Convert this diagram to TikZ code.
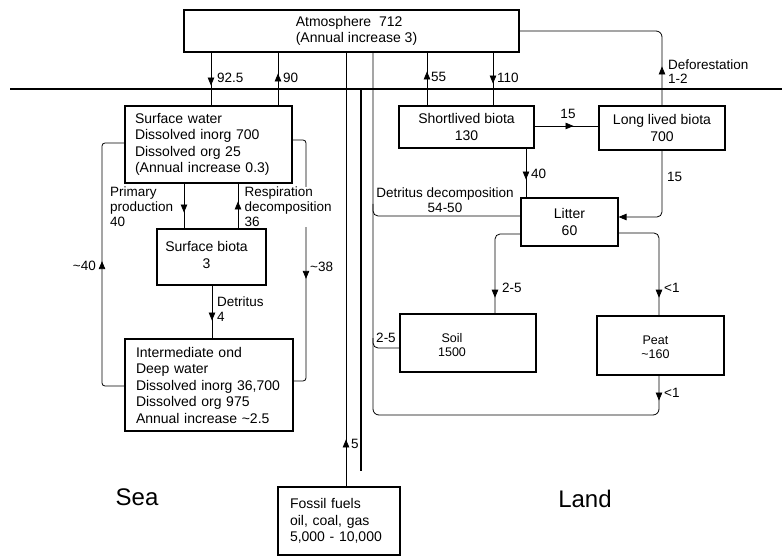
\documentclass[tikz,border=0pt]{standalone}
\usepackage{fontspec}
\setmainfont{Liberation Sans}
\usetikzlibrary{arrows.meta,decorations.markings}
\newcommand\myboxfont{\fontsize{14}{16.5}\selectfont}
\newcommand\mylabfont{\fontsize{13.5}{15}\selectfont}
\newcommand\mysmallfont{\fontsize{12.5}{14}\selectfont}
\begin{document}
\begin{tikzpicture}[x=1pt,y=-1pt,
  box/.style={draw,line width=1.1pt,inner sep=0pt,font=\myboxfont,align=center},
  conn/.style={line width=0.8pt},
  marr/.style={decoration={markings,mark=at position #1pt with {\arrow{Triangle[length=8pt,width=6.5pt]}}},postaction={decorate}},
  lab/.style={font=\mylabfont,inner sep=1pt,align=left},
  big/.style={font=\fontsize{24}{28}\selectfont},
  divider/.style={line width=2pt}]
\useasboundingbox (0,0) rectangle (782,556);

% boxes
\node[box,minimum width=335pt,minimum height=42pt,
  label={[font=\myboxfont,align=left,xshift=5pt]center:Atmosphere\ \ 712\\(Annual increase 3)}] (atm) at (351.5,31) {};
\node[box,minimum width=167pt,minimum height=77pt,text width=147pt,inner xsep=10pt,align=left] (sw) at (208.5,144.5)
  {Surface water\\Dissolved inorg 700\\Dissolved org 25\\(Annual increase 0.3)};
\node[box,minimum width=109pt,minimum height=56pt,
  label={[font=\myboxfont,align=center,xshift=-5pt,yshift=2pt]center:Surface biota\\3}] (sb) at (211.5,257) {};
\node[box,minimum width=168pt,minimum height=92pt,text width=146pt,inner xsep=11pt,align=left] (dw) at (209,385)
  {Intermediate ond\\Deep water\\Dissolved inorg 36,700\\Dissolved org 975\\Annual increase \textasciitilde2.5};
\node[box,minimum width=122pt,minimum height=68pt,text width=98pt,inner xsep=12pt,align=left] (ff) at (339,521)
  {Fossil fuels\\oil, coal, gas\\5,000 - 10,000};
\node[box,minimum width=135pt,minimum height=42pt] (slb) at (466.5,127) {Shortlived biota\\130};
\node[box,minimum width=126pt,minimum height=44pt] (llb) at (662,128) {Long lived biota\\700};
\node[box,minimum width=97pt,minimum height=48pt] (lit) at (569.5,222) {Litter\\60};
\node[box,minimum width=136pt,minimum height=58pt,
  label={[font=\mysmallfont,align=center,xshift=-16pt,yshift=-2pt]center:Soil\\1500}] (soil) at (468,343) {};
\node[box,minimum width=127pt,minimum height=59pt,
  label={[font=\mysmallfont,align=center,xshift=-5pt,yshift=-1.5pt]center:Peat\\\textasciitilde160}] (peat) at (660.5,345.5) {};

\node[big] (sea) at (137,497) {Sea};
\node[big] (land) at (585,499) {Land};

% dividers
\coordinate (hl) at (10,89);
\coordinate (hr) at (782,89);
\coordinate (vt) at (361,89);
\coordinate (vb) at (361,471);
\draw[divider] (hl) -- (hr);
\draw[divider] (vt) -- (vb);

% sea exchanges
\draw[conn,marr=33] (atm.south -| 211,0) -- (sw.north -| 211,0);
\draw[conn,marr=32] (sw.north -| 278,0) -- (atm.south -| 278,0);
\draw[conn,marr=29] (sw.south -| 184,0) -- (sb.north -| 184,0);
\draw[conn,marr=27] (sb.north -| 238,0) -- (sw.south -| 238,0);
\draw[conn,marr=35] (sb.south -| 212,0) -- (dw.north -| 212,0);
\draw[conn,rounded corners=3pt,marr=146] (dw.west |- 0,386) -- (102,386) -- (102,143) -- (sw.west |- 0,143);
\draw[conn,rounded corners=3pt,marr=151] (sw.east |- 0,140) -- (306,140) -- (306,381) -- (dw.east |- 0,381);

% fossil
\draw[conn,marr=47] (ff.north -| 346,0) -- (atm.south -| 346,0);

% land exchanges
\draw[conn,marr=34] (slb.north -| 427,0) -- (atm.south -| 427,0);
\draw[conn,marr=31] (atm.south -| 493,0) -- (slb.north -| 493,0);
\draw[conn,rounded corners=6pt,marr=39] (llb.north) -- (llb.north |- atm.east) -- (atm.east);
\draw[conn,marr=39] (slb.east |- 0,126) -- (llb.west |- 0,126);
\draw[conn,marr=31] (slb.south -| 526,0) -- (lit.north -| 526,0);
\draw[conn,rounded corners=5pt,-{Triangle[length=8pt,width=6.5pt]}] (llb.south) -- (llb.south |- 0,217) -- (lit.east |- 0,217);
\draw[conn,rounded corners=5pt,marr=87] (lit.west |- 0,234) -- (495,234) -- (soil.north -| 495,0);
\draw[conn,rounded corners=5pt,marr=103] (lit.east |- 0,233) -- (659,233) -- (peat.north -| 659,0);
\draw[conn,rounded corners=6pt,marr=25] (peat.south -| 659,0) -- (659,415) -- (373,415) -- (atm.south -| 373,0);
\coordinate (ddj) at (373,204);
\coordinate (sdj) at (373,338);
\draw[conn,rounded corners=5pt] (lit.west |- 0,216) -- (373,216) -- (ddj);
\draw[conn,rounded corners=5pt] (soil.west |- 0,348) -- (373,348) -- (sdj);

% labels
\node[lab,anchor=west] (l925) at (216,78) {92.5};
\node[lab,anchor=west] (l90) at (282,78) {90};
\node[lab,anchor=west] (l55) at (430,77) {55};
\node[lab,anchor=west] (l110) at (496,78) {110};
\node[lab,anchor=west,font=\fontsize{13.5}{14}\selectfont] (ldef) at (667,72) {Deforestation\\1-2};
\node[lab,anchor=west] (lpp) at (109,207) {Primary\\production\\40};
\node[lab,anchor=west,fill=white,inner sep=0.5pt] (lrd) at (244,207) {Respiration\\decomposition\\36};
\node[lab,anchor=east] (l40) at (97,266) {\textasciitilde40};
\node[lab,anchor=west] (l38) at (309,267) {\textasciitilde38};
\node[lab,anchor=west] (ldet) at (216,309) {Detritus\\4};
\node[lab,anchor=west] (l5) at (350,444) {5};
\node[lab,align=center] (ldd) at (445,200) {Detritus decomposition\\54-50};
\node[lab,anchor=west] (l40b) at (530,174) {40};
\node[lab,anchor=west] (l15b) at (666,177) {15};
\node[lab] (l15a) at (568,114) {15};
\node[lab,anchor=west] (l25a) at (501,288) {2-5};
\node[lab,anchor=west] (llt1) at (663,288) {<1};
\node[lab,anchor=west] (llt2) at (663,393) {<1};
\node[lab] (l25b) at (386,338) {2-5};
\end{tikzpicture}
\end{document}
